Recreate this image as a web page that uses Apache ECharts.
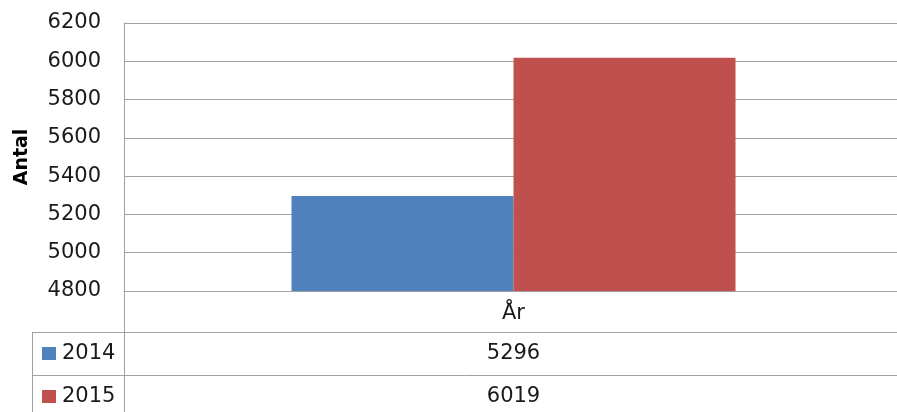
<!DOCTYPE html>
<html>
<head>
<meta charset="utf-8">
<script src="https://cdn.jsdelivr.net/npm/echarts@6/dist/echarts.min.js"></script>
<style>html,body{margin:0;padding:0;background:#fff}#c{width:897px;height:412px}</style>
</head>
<body>
<div id="c"></div>
<script>
const categories = ['År'];
const seriesNames = ['2014', '2015'];
const values2014 = [5296];
const values2015 = [6019];
const yTicks = { min: 4800, max: 6200, interval: 200 };
const colors = ['#4F81BD', '#C0504D'];

const chart = echarts.init(document.getElementById('c'), null, { renderer: 'canvas' });
const W = 897, H = 412;
const gridLeft = 124, gridTop = 23, gridBottomY = 291, gridRight = -6;
const lineColor = '#a0a0a0';
const font = 'DejaVu Sans';
const allValues = [values2014, values2015];

const graphics = [];
graphics.push({ type: 'line', shape: { x1: gridLeft + 0.5, y1: gridBottomY, x2: gridLeft + 0.5, y2: H }, style: { stroke: lineColor, lineWidth: 1 } });
const rowTops = [332, 375];
rowTops.forEach(y => graphics.push({ type: 'line', shape: { x1: 32, y1: y + 0.5, x2: W, y2: y + 0.5 }, style: { stroke: lineColor, lineWidth: 1 } }));
graphics.push({ type: 'line', shape: { x1: 32.5, y1: 332, x2: 32.5, y2: H }, style: { stroke: lineColor, lineWidth: 1 } });
const centerX = (gridLeft + W - gridRight) / 2;
seriesNames.forEach((name, i) => {
  const cy = rowTops[i] + 22;
  graphics.push({ type: 'rect', shape: { x: 42, y: cy - 7, width: 14, height: 13 }, style: { fill: colors[i] } });
  graphics.push({ type: 'text', x: 62, y: cy, style: { text: name, font: '21px "' + font + '"', fill: '#1a1a1a', textVerticalAlign: 'middle', textAlign: 'left' } });
  graphics.push({ type: 'text', x: centerX, y: cy, style: { text: String(allValues[i][0]), font: '21px "' + font + '"', fill: '#1a1a1a', textVerticalAlign: 'middle', textAlign: 'center' } });
});
graphics.push({ type: 'text', x: 22, y: 157, rotation: Math.PI / 2, style: { text: 'Antal', font: 'bold 19px "' + font + '"', fill: '#000', textAlign: 'center', textVerticalAlign: 'middle' } });

chart.setOption({
  animation: false,
  backgroundColor: '#fff',
  grid: { left: gridLeft, right: gridRight, top: gridTop, bottom: H - gridBottomY, containLabel: false, outerBoundsMode: 'none' },
  xAxis: {
    type: 'category', data: categories,
    axisLine: { show: true, lineStyle: { color: lineColor } },
    axisTick: { show: false },
    splitLine: { show: false },
    axisLabel: { margin: 12, fontFamily: font, fontSize: 21, color: '#1a1a1a' }
  },
  yAxis: {
    type: 'value', min: yTicks.min, max: yTicks.max, interval: yTicks.interval,
    axisLine: { show: true, lineStyle: { color: lineColor } },
    axisTick: { show: false },
    splitLine: { lineStyle: { color: lineColor, width: 1 } },
    axisLabel: { margin: 23, fontFamily: font, fontSize: 21, color: '#1a1a1a', formatter: v => String(v) }
  },
  series: [
    { name: seriesNames[0], type: 'bar', data: values2014, barWidth: 222, barGap: '0%', itemStyle: { color: colors[0] } },
    { name: seriesNames[1], type: 'bar', data: values2015, barWidth: 222, barGap: '0%', itemStyle: { color: colors[1] } }
  ],
  graphic: graphics
});
</script>
</body>
</html>
